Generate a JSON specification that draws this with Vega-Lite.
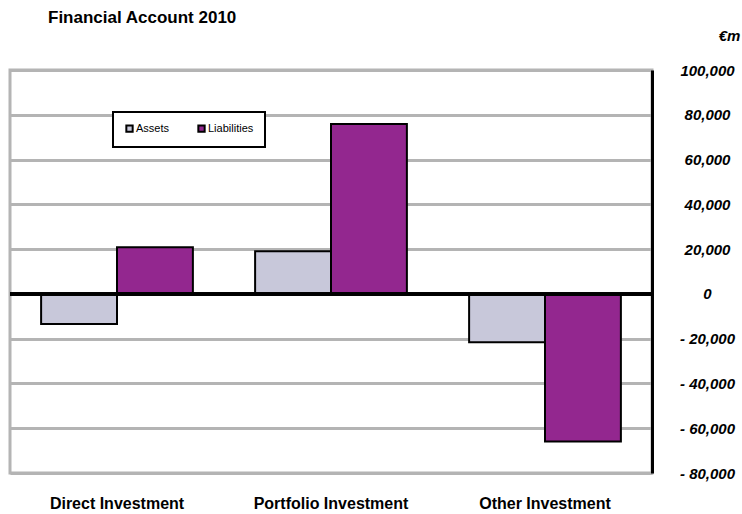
{
  "$schema": "https://vega.github.io/schema/vega-lite/v6.json",
  "autosize": "none",
  "width": 642,
  "height": 403,
  "padding": {"left": 10, "top": 70, "right": 90, "bottom": 41},
  "background": "white",
  "title": {
    "text": "Financial Account 2010",
    "anchor": "start",
    "frame": "group",
    "dx": 38,
    "offset": 1,
    "font": "Liberation Sans",
    "fontSize": 17,
    "fontWeight": "bold",
    "color": "#000000"
  },
  "config": {
    "view": {"stroke": "#B4B4B4", "strokeWidth": 3},
    "font": "Liberation Sans"
  },
  "data": {
    "values": [
      {"category": "Direct Investment", "series": "Assets", "value": -13400},
      {"category": "Direct Investment", "series": "Liabilities", "value": 20800},
      {"category": "Portfolio Investment", "series": "Assets", "value": 19000},
      {"category": "Portfolio Investment", "series": "Liabilities", "value": 75900},
      {"category": "Other Investment", "series": "Assets", "value": -21600},
      {"category": "Other Investment", "series": "Liabilities", "value": -65900}
    ]
  },
  "layer": [
    {
      "mark": {"type": "bar", "stroke": "#000000", "strokeWidth": 2},
      "encoding": {
        "x": {
          "field": "category",
          "type": "nominal",
          "sort": ["Direct Investment", "Portfolio Investment", "Other Investment"],
          "scale": {"paddingInner": 0, "paddingOuter": 0},
          "axis": {
            "title": null,
            "domain": false,
            "ticks": false,
            "labelAngle": 0,
            "labelPadding": 22,
            "labelFont": "Liberation Sans",
            "labelFontSize": 16,
            "labelFontWeight": "bold",
            "labelColor": "#000000"
          }
        },
        "xOffset": {
          "field": "series",
          "type": "nominal",
          "sort": ["Assets", "Liabilities"],
          "scale": {"paddingInner": 0, "paddingOuter": 0.41}
        },
        "y": {
          "field": "value",
          "type": "quantitative",
          "scale": {"domain": [-80000, 100000], "nice": false, "zero": false},
          "axis": {
            "orient": "right",
            "title": "€m",
            "titleAngle": 0,
            "titleX": 77,
            "titleY": -35,
            "titleAlign": "center",
            "titleBaseline": "middle",
            "titleFont": "Liberation Sans",
            "titleFontSize": 15,
            "titleFontWeight": "bold",
            "titleFontStyle": "italic",
            "titleColor": "#000000",
            "values": [-80000, -60000, -40000, -20000, 0, 20000, 40000, 60000, 80000, 100000],
            "labelExpr": "datum.value < 0 ? '- ' + format(-datum.value, ',') : format(datum.value, ',')",
            "labelAlign": "center",
            "labelPadding": 55,
            "labelFont": "Liberation Sans",
            "labelFontSize": 15,
            "labelFontWeight": "bold",
            "labelFontStyle": "italic",
            "labelColor": "#000000",
            "ticks": false,
            "domain": true,
            "domainColor": "#000000",
            "domainWidth": 3,
            "grid": true,
            "gridColor": "#B4B4B4",
            "gridWidth": 3
          }
        },
        "color": {
          "field": "series",
          "type": "nominal",
          "scale": {"domain": ["Assets", "Liabilities"], "range": ["#C8C8DA", "#93278F"]},
          "legend": {
            "title": null,
            "orient": "none",
            "direction": "horizontal",
            "legendX": 103,
            "legendY": 42,
            "fillColor": "white",
            "strokeColor": "#000000",
            "padding": 11,
            "symbolType": "square",
            "symbolSize": 40,
            "symbolStrokeColor": "#000000",
            "symbolStrokeWidth": 2,
            "labelFont": "Liberation Sans",
            "labelFontSize": 11,
            "labelColor": "#000000",
            "labelOffset": 1,
            "columnPadding": 24,
            "encode": {"legend": {"update": {"strokeWidth": {"value": 2}}}}
          }
        }
      }
    },
    {
      "mark": {"type": "rule", "color": "#000000", "strokeWidth": 3},
      "encoding": {"y": {"datum": 0}}
    }
  ]
}
